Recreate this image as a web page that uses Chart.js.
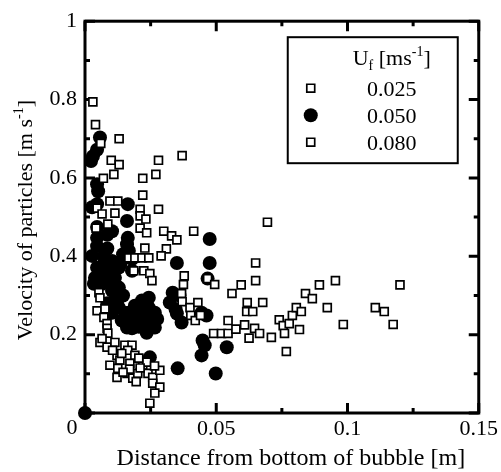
<!DOCTYPE html>
<html>
<head>
<meta charset="utf-8">
<script src="https://cdn.jsdelivr.net/npm/chart.js@4.4.0/dist/chart.umd.min.js"></script>
<style>
  html, body { margin: 0; padding: 0; background: #fff; }
  #wrap { width: 501px; height: 472px; }
</style>
</head>
<body>
<div id="wrap"><canvas id="canvas" width="501" height="472"></canvas></div>
<script>
// distance from bottom of bubble [m] and particle velocity [m/s], one pair per Uf
var dist025 = [0.003, 0.004, 0.013, 0.006, 0.010, 0.013, 0.011, 0.007, 0.0095, 0.0125,
  0.0046, 0.0114, 0.0065, 0.0042, 0.0087, 0.0167, 0.019, 0.0217, 0.0243, 0.0186,
  0.0053, 0.0057, 0.0046, 0.0076, 0.0072, 0.0084, 0.0084, 0.0087, 0.0057, 0.0065,
  0.0084, 0.0114, 0.0152, 0.0179, 0.0163, 0.0122, 0.019, 0.0133, 0.0095, 0.0125,
  0.0171, 0.022, 0.0122, 0.016, 0.0182, 0.0201, 0.024, 0.0258, 0.0285, 0.0258,
  0.0285, 0.0266, 0.0247, 0.0235, 0.014, 0.0205, 0.017, 0.021, 0.0145, 0.0195,
  0.0265, 0.0105, 0.0224, 0.0247, 0.0255];
var vel025 = [0.794, 0.736, 0.700, 0.688, 0.645, 0.634, 0.609, 0.599, 0.541, 0.541,
  0.523, 0.510, 0.508, 0.472, 0.482, 0.396, 0.396, 0.396, 0.396, 0.363,
  0.307, 0.294, 0.261, 0.266, 0.244, 0.228, 0.216, 0.204, 0.180, 0.190,
  0.168, 0.180, 0.173, 0.173, 0.160, 0.147, 0.147, 0.135, 0.122, 0.114,
  0.127, 0.122, 0.091, 0.101, 0.089, 0.101, 0.101, 0.091, 0.109, 0.076,
  0.066, 0.051, 0.025, 0.130, 0.152, 0.140, 0.112, 0.115, 0.104, 0.080,
  0.120, 0.160, 0.363, 0.356, 0.338];

var dist050 = [0.0057, 0.0046, 0.003, 0.0023, 0.0046, 0.005, 0.0163, 0.0046, 0.0027, 0.016,
  0.0046, 0.0103, 0.0163, 0.0046, 0.0085, 0.016, 0.0167, 0.0046, 0.0027, 0.0072,
  0.0103, 0.0046, 0.0091, 0.0129, 0.0038, 0.0114, 0.0034, 0.0065, 0.0103, 0.0129,
  0.0179, 0.0179, 0.0145, 0.0129, 0.0103, 0.0167, 0.019, 0.0217, 0.0243, 0.0243,
  0.0247, 0.0217, 0.019, 0.0228, 0.0179, 0.014, 0.0266, 0.0266, 0.0235, 0.016,
  0.0247, 0.0475, 0.035, 0.0475, 0.0467, 0.0334, 0.036, 0.0323, 0.0345, 0.035,
  0.0368, 0.0444, 0.0463, 0.0448, 0.0456, 0.0444, 0.054, 0.0353, 0.0498, 0,
  0.0075, 0.0095, 0.0125, 0.0085, 0.0115, 0.0065, 0.021, 0.0205, 0.0255, 0.0225,
  0.0155, 0.0135, 0.0145, 0.0085, 0.0275, 0.0195, 0.0155];
var vel050 = [0.703, 0.672, 0.655, 0.643, 0.584, 0.566, 0.533, 0.533, 0.525, 0.490,
  0.475, 0.464, 0.447, 0.447, 0.455, 0.431, 0.414, 0.426, 0.401, 0.401,
  0.388, 0.371, 0.363, 0.371, 0.345, 0.345, 0.330, 0.330, 0.312, 0.320,
  0.393, 0.363, 0.300, 0.269, 0.256, 0.256, 0.274, 0.287, 0.294, 0.269,
  0.249, 0.244, 0.231, 0.218, 0.216, 0.236, 0.218, 0.256, 0.205, 0.218,
  0.142, 0.444, 0.383, 0.383, 0.343, 0.307, 0.300, 0.282, 0.265, 0.254,
  0.231, 0.256, 0.249, 0.185, 0.173, 0.147, 0.168, 0.114, 0.101, 0,
  0.385, 0.335, 0.290, 0.280, 0.285, 0.360, 0.265, 0.220, 0.232, 0.260,
  0.255, 0.380, 0.405, 0.420, 0.240, 0.250, 0.235];

var dist080 = [0.028, 0.037, 0.027, 0.022, 0.022, 0.028, 0.021, 0.021, 0.0232, 0.021,
  0.030, 0.033, 0.0414, 0.0235, 0.035, 0.031, 0.0228, 0.029, 0.0378, 0.0375,
  0.0368, 0.037, 0.040, 0.043, 0.0403, 0.042, 0.044, 0.0467, 0.0494, 0.049,
  0.052, 0.0545, 0.0545, 0.0575, 0.0608, 0.0625, 0.056, 0.0595, 0.065, 0.065,
  0.0618, 0.0677, 0.0616, 0.0639, 0.0646, 0.0665, 0.071, 0.0695, 0.074, 0.0755,
  0.076, 0.0778, 0.079, 0.0805, 0.0824, 0.0817, 0.0767, 0.084, 0.0866, 0.0893,
  0.0923, 0.0954, 0.0984, 0.1106, 0.114, 0.1174, 0.120];
var vel080 = [0.645, 0.657, 0.609, 0.599, 0.556, 0.520, 0.520, 0.503, 0.495, 0.472,
  0.464, 0.452, 0.464, 0.460, 0.442, 0.419, 0.421, 0.401, 0.350, 0.328,
  0.305, 0.284, 0.269, 0.282, 0.249, 0.236, 0.249, 0.343, 0.328, 0.203,
  0.203, 0.203, 0.236, 0.214, 0.225, 0.191, 0.305, 0.327, 0.338, 0.383,
  0.282, 0.282, 0.259, 0.259, 0.216, 0.203, 0.193, 0.487, 0.238, 0.223,
  0.203, 0.228, 0.249, 0.269, 0.259, 0.213, 0.157, 0.305, 0.292, 0.327,
  0.269, 0.338, 0.226, 0.269, 0.259, 0.226, 0.327];

var seriesLabels = ['0.025', '0.050', '0.080'];
var xTicks = [0, 0.05, 0.1, 0.15];
var xMinorTicks = [0.025, 0.075, 0.125];
var yTicks = [0, 0.2, 0.4, 0.6, 0.8, 1];
var yMinorTicks = [0.1, 0.3, 0.5, 0.7, 0.9];

var FONT = "'Liberation Serif', 'Times New Roman', serif";

function toPoints(xs, ys) {
  return xs.map(function(x, i) { return { x: x, y: ys[i] }; });
}

function tickText(v) {
  return v === 0 ? '' : String(+v.toFixed(3));
}

// draws a run of text pieces (normal / sub / superscript) centred on x
function drawRuns(ctx, runs, x, y) {
  var total = 0;
  runs.forEach(function(r) {
    ctx.font = r.size + 'px ' + FONT;
    r.w = ctx.measureText(r.t).width;
    total += r.w;
  });
  var cx = x - total / 2;
  runs.forEach(function(r) {
    ctx.font = r.size + 'px ' + FONT;
    ctx.fillText(r.t, cx, y + (r.dy || 0));
    cx += r.w;
  });
}

var frameAndLabels = {
  id: 'frameAndLabels',
  beforeDatasetsDraw: function(chart) {
    var ctx = chart.ctx, a = chart.chartArea;
    var xs = chart.scales.x, ys = chart.scales.y;
    ctx.save();
    ctx.strokeStyle = '#000';
    ctx.lineWidth = 3;
    ctx.strokeRect(a.left, a.top, a.right - a.left, a.bottom - a.top);
    ctx.beginPath();
    function xTick(v, len) {
      var p = xs.getPixelForValue(v);
      ctx.moveTo(p, a.bottom); ctx.lineTo(p, a.bottom - len);
      ctx.moveTo(p, a.top); ctx.lineTo(p, a.top + len);
    }
    function yTick(v, len) {
      var p = ys.getPixelForValue(v);
      ctx.moveTo(a.left, p); ctx.lineTo(a.left + len, p);
      ctx.moveTo(a.right, p); ctx.lineTo(a.right - len, p);
    }
    xTicks.forEach(function(v) { xTick(v, 10); });
    xMinorTicks.forEach(function(v) { xTick(v, 5); });
    yTicks.forEach(function(v) { yTick(v, 10); });
    yMinorTicks.forEach(function(v) { yTick(v, 5); });
    ctx.stroke();
    ctx.restore();
  },
  afterDraw: function(chart) {
    var ctx = chart.ctx, a = chart.chartArea;
    ctx.save();
    ctx.fillStyle = '#000';
    ctx.textBaseline = 'alphabetic';
    ctx.textAlign = 'left';

    // shared origin label
    ctx.font = '22px ' + FONT;
    ctx.textAlign = 'center';
    ctx.fillText('0', a.left - 13, a.bottom + 21);
    ctx.textAlign = 'left';

    // x title
    drawRuns(ctx, [{ t: 'Distance from bottom of bubble [m]', size: 24 }],
      (a.left + a.right) / 2 + 9, a.bottom + 52);

    // y title
    ctx.save();
    ctx.translate(32, (a.top + a.bottom) / 2 + 3);
    ctx.rotate(-Math.PI / 2);
    drawRuns(ctx, [
      { t: 'Velocity of particles [m s', size: 22 },
      { t: '-1', size: 14, dy: -9 },
      { t: ']', size: 22 }
    ], 0, 0);
    ctx.restore();

    // legend box
    var bx = a.right - 191, by = a.top + 16, bw = 170, bh = 126;
    ctx.lineWidth = 2;
    ctx.strokeStyle = '#000';
    ctx.strokeRect(bx, by, bw, bh);
    var tx = bx + 104;
    drawRuns(ctx, [
      { t: 'U', size: 22 },
      { t: 'f', size: 14, dy: 5 },
      { t: ' [ms', size: 22 },
      { t: '-1', size: 14, dy: -9 },
      { t: ']', size: 22 }
    ], tx, by + 28);
    var mx = bx + 23;
    chart.data.datasets.forEach(function(ds, i) {
      var ty = by + 59 + i * 27;
      drawRuns(ctx, [{ t: ds.label, size: 22 }], tx, ty);
      var my = ty - 8;
      ctx.lineWidth = ds.borderWidth;
      ctx.beginPath();
      if (ds.pointStyle === 'circle') {
        ctx.arc(mx, my, ds.pointRadius, 0, Math.PI * 2);
        ctx.fillStyle = ds.backgroundColor;
        ctx.fill();
      } else {
        var h = ds.pointRadius * Math.SQRT1_2;
        ctx.rect(mx - h, my - h, 2 * h, 2 * h);
        ctx.fillStyle = ds.backgroundColor;
        ctx.fill();
        ctx.stroke();
      }
      ctx.fillStyle = '#000';
    });
    ctx.restore();
  }
};

Chart.defaults.font.family = FONT;
Chart.defaults.color = '#000';

var squareStyle = {
  pointStyle: 'rect', pointRadius: 5.6, pointHoverRadius: 5.6,
  backgroundColor: '#fff', borderColor: '#000', borderWidth: 1.7,
  clip: false, order: 0
};

var ctx = document.getElementById('canvas').getContext('2d');
var myChart = new Chart(ctx, {
  type: 'scatter',
  data: {
    datasets: [
      Object.assign({ label: seriesLabels[0], data: toPoints(dist025, vel025) }, squareStyle),
      {
        label: seriesLabels[1], data: toPoints(dist050, vel050),
        pointStyle: 'circle', pointRadius: 7, pointHoverRadius: 7,
        backgroundColor: '#000', borderColor: '#000', borderWidth: 0,
        clip: false, order: 1
      },
      Object.assign({ label: seriesLabels[2], data: toPoints(dist080, vel080) }, squareStyle)
    ]
  },
  options: {
    responsive: false,
    animation: false,
    layout: { padding: { left: 0, right: 21, top: 19, bottom: 0 } },
    plugins: {
      legend: { display: false },
      tooltip: { enabled: false }
    },
    scales: {
      x: {
        type: 'linear', min: 0, max: 0.15,
        afterBuildTicks: function(s) { s.ticks = xTicks.map(function(v) { return { value: v }; }); },
        afterFit: function(s) { s.height = 59; },
        grid: { display: false, drawTicks: false, tickLength: 0 },
        border: { display: false },
        ticks: { padding: 3, maxRotation: 0, font: { size: 22 }, callback: tickText }
      },
      y: {
        type: 'linear', min: 0, max: 1,
        afterBuildTicks: function(s) { s.ticks = yTicks.map(function(v) { return { value: v }; }); },
        afterFit: function(s) { s.width = 85; },
        grid: { display: false, drawTicks: false, tickLength: 0 },
        border: { display: false },
        ticks: { padding: 8, font: { size: 22 }, callback: tickText }
      }
    }
  },
  plugins: [frameAndLabels]
});
</script>
</body>
</html>
